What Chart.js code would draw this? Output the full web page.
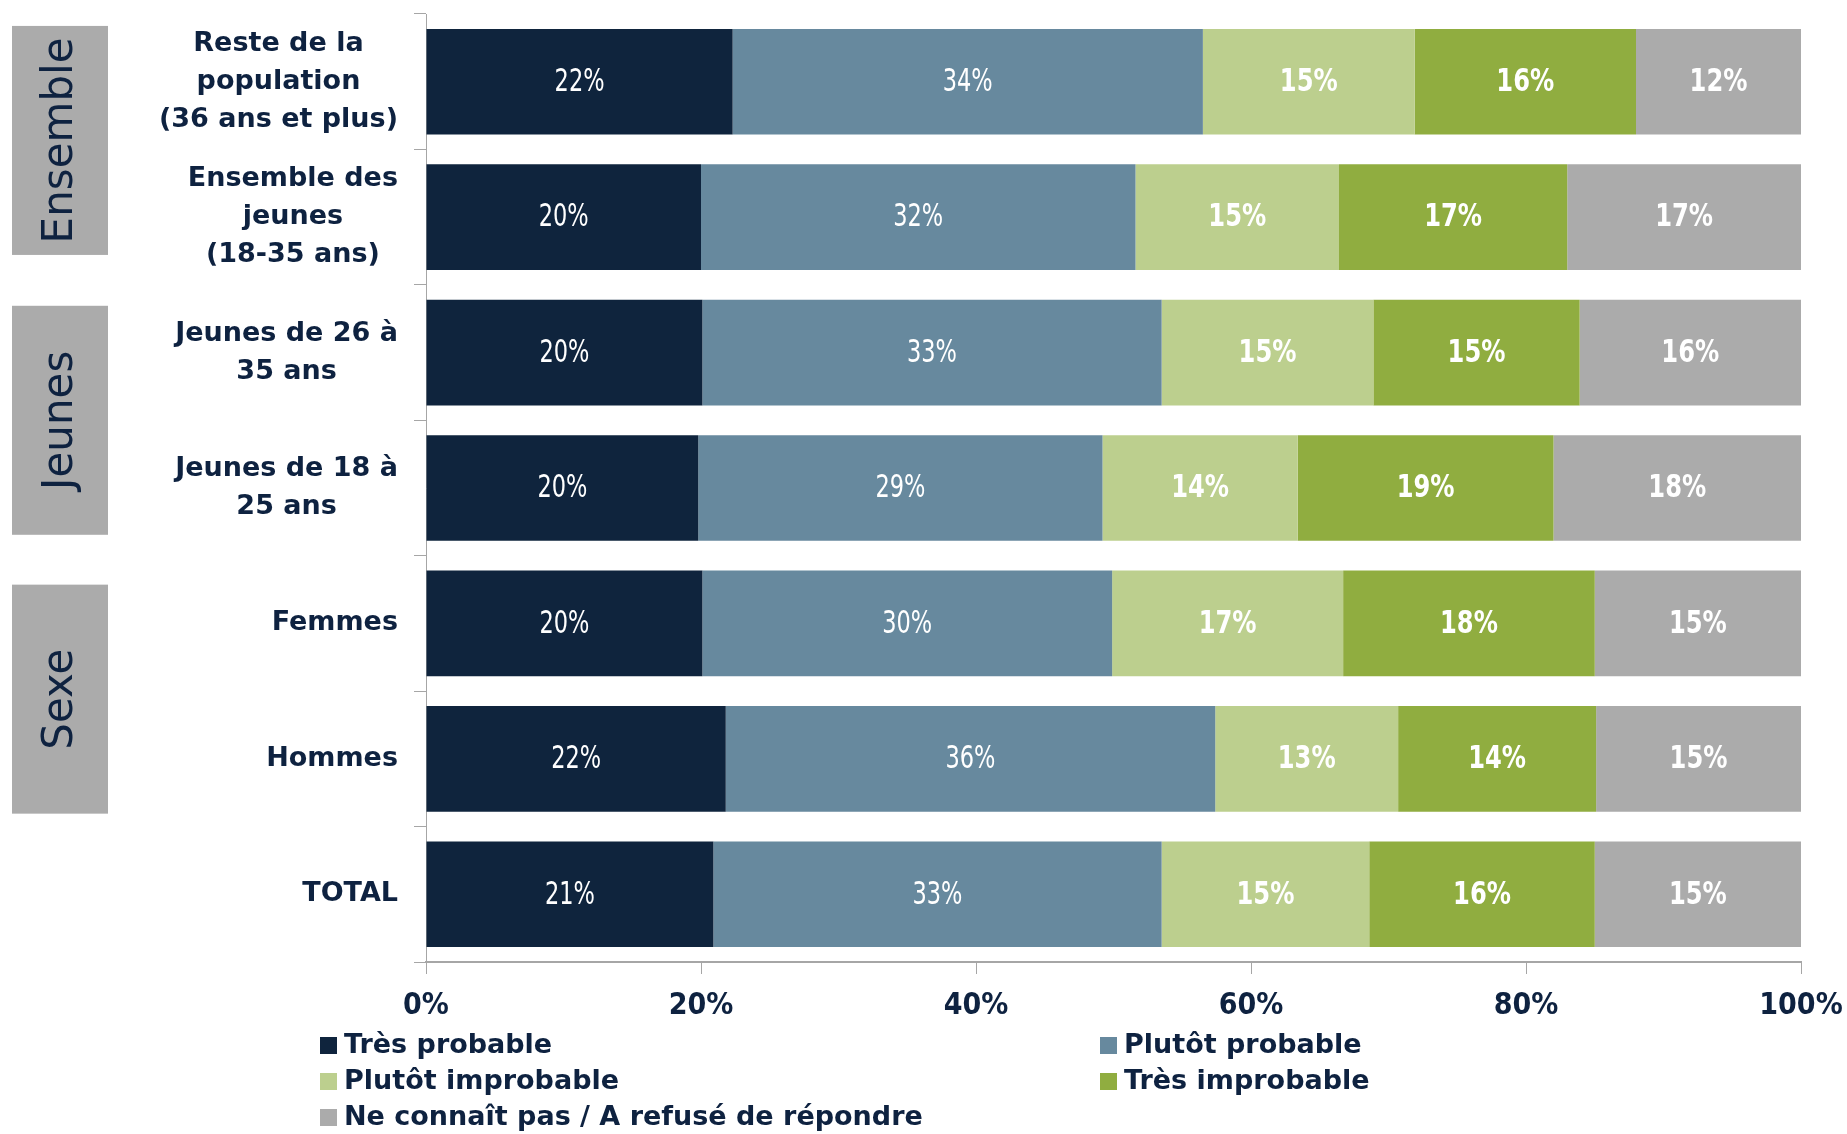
<!DOCTYPE html>
<html>
<head>
<meta charset="utf-8">
<script src="https://cdn.jsdelivr.net/npm/chart.js@4"></script>
<style>
html, body { margin: 0; padding: 0; background: #fff; }
</style>
</head>
<body>
<canvas id="myCanvas" width="1847" height="1134"></canvas>
<script>
var categories = [
    ['Reste de la', 'population', '(36 ans et plus)'],
    ['Ensemble des', 'jeunes', '(18-35 ans)'],
    ['Jeunes de 26 à', '35 ans'],
    ['Jeunes de 18 à', '25 ans'],
    ['Femmes'],
    ['Hommes'],
    ['TOTAL']
]

var tresProbable     = [22.3, 20.0, 20.1, 19.8, 20.1, 21.8, 20.9]
var plutotProbable   = [34.2, 31.6, 33.4, 29.4, 29.8, 35.6, 32.6]
var plutotImprobable = [15.4, 14.8, 15.4, 14.2, 16.8, 13.3, 15.1]
var tresImprobable   = [16.1, 16.6, 15.0, 18.6, 18.3, 14.4, 16.4]
var neSaitPas        = [12.0, 17.0, 16.1, 18.0, 15.0, 14.9, 15.0]

var seriesNames = ['Très probable', 'Plutôt probable', 'Plutôt improbable', 'Très improbable', 'Ne connaît pas / A refusé de répondre']
var seriesColors = ['#0f243d', '#67899e', '#bccf8e', '#90ad40', '#ababab']

// group boxes on the left: label, first and last category index
var groups = [['Ensemble', 0, 1], ['Jeunes', 2, 3], ['Sexe', 4, 5]]

var navy = '#0e2240'
var axisGray = '#a6a6a6'
var narrow = '"DejaVu Sans Condensed", "Liberation Sans Narrow", sans-serif'
var sans = '"DejaVu Sans", sans-serif'

var extras = {
    id: 'extras',
    afterDatasetsDraw: function(chart) {
        var ctx = chart.ctx
        chart.data.datasets.forEach(function(ds, i) {
            var meta = chart.getDatasetMeta(i)
            var sx = i < 2 ? 0.78 : 0.84
            meta.data.forEach(function(el, j) {
                ctx.save()
                ctx.translate((el.x + el.base) / 2, el.y + 1)
                ctx.scale(sx, 1)
                ctx.font = (i < 2 ? 'normal ' : 'bold ') + '32px ' + narrow
                ctx.textAlign = 'center'
                ctx.textBaseline = 'middle'
                ctx.fillStyle = '#fff'
                ctx.fillText(Math.round(ds.data[j]) + '%', 0, 0)
                ctx.restore()
            })
        })
    },
    afterDraw: function(chart) {
        var ctx = chart.ctx
        var y = chart.scales.y
        var area = chart.chartArea
        ctx.save()

        // category labels, lines centred in a right-aligned block
        ctx.font = 'bold 27px ' + sans
        ctx.fillStyle = navy
        ctx.textAlign = 'center'
        ctx.textBaseline = 'middle'
        var right = area.left - 28
        categories.forEach(function(lines, i) {
            var w = 0
            lines.forEach(function(l) { w = Math.max(w, ctx.measureText(l).width) })
            var cx = right - w / 2
            var cy = y.getPixelForValue(i)
            var lh = 38
            lines.forEach(function(l, k) {
                ctx.fillText(l, cx, cy + (k - (lines.length - 1) / 2) * lh)
            })
        })

        // group boxes (small vertical nudges as in the original layout)
        var nudge = [-9, 0, 8]
        var half = (y.getPixelForValue(1) - y.getPixelForValue(0)) / 2
        groups.forEach(function(g, gi) {
            var top = y.getPixelForValue(g[1]) - half
            var bottom = y.getPixelForValue(g[2]) + half
            var c = (top + bottom) / 2 + nudge[gi]
            var h = 229
            ctx.fillStyle = '#ababab'
            ctx.fillRect(12, c - h / 2, 96, h)
            ctx.save()
            ctx.translate(61, c)
            ctx.rotate(-Math.PI / 2)
            ctx.fillStyle = navy
            ctx.font = 'normal 42px ' + sans
            ctx.textAlign = 'center'
            ctx.textBaseline = 'middle'
            ctx.fillText(g[0], 0, 0)
            ctx.restore()
        })

        // legend in two columns
        var cols = [320, 1100]
        var rows = [1045, 1081, 1117]
        ctx.font = 'bold 27px ' + sans
        ctx.textAlign = 'left'
        ctx.textBaseline = 'middle'
        seriesNames.forEach(function(name, i) {
            var x = cols[i % 2]
            var ry = rows[Math.floor(i / 2)]
            ctx.fillStyle = seriesColors[i]
            ctx.fillRect(x, ry - 8, 17, 17)
            ctx.fillStyle = navy
            ctx.fillText(name, x + 24, ry + 1)
        })
        ctx.restore()
    }
}

var values = [tresProbable, plutotProbable, plutotImprobable, tresImprobable, neSaitPas]

var ctx = document.getElementById('myCanvas')
var myChart = new Chart(ctx, {
    type: 'bar',
    data: {
        labels: categories.map(function(l) { return l.join(' ') }),
        datasets: values.map(function(v, i) {
            return {
                label: seriesNames[i],
                data: v,
                backgroundColor: seriesColors[i],
                borderWidth: 0,
                categoryPercentage: 1,
                barPercentage: 0.78
            }
        })
    },
    options: {
        indexAxis: 'y',
        responsive: false,
        animation: false,
        devicePixelRatio: 1,
        layout: { padding: { left: 414, right: 46, top: 14, bottom: 96 } },
        plugins: {
            legend: { display: false },
            tooltip: { enabled: false }
        },
        scales: {
            x: {
                stacked: true,
                min: 0,
                max: 100,
                afterFit: function(s) { s.paddingRight = 0 },
                ticks: {
                    stepSize: 20,
                    padding: 14,
                    color: navy,
                    font: { family: narrow, size: 30, weight: 'bold' },
                    callback: function(v) { return v + '%' }
                },
                grid: { drawOnChartArea: false, tickLength: 12, color: axisGray },
                border: { color: axisGray, width: 2 }
            },
            y: {
                stacked: true,
                offset: true,
                ticks: { display: false },
                grid: { offset: true, drawOnChartArea: false, tickLength: 12, color: axisGray },
                border: { color: axisGray, width: 1 }
            }
        }
    },
    plugins: [extras]
})
</script>
</body>
</html>
